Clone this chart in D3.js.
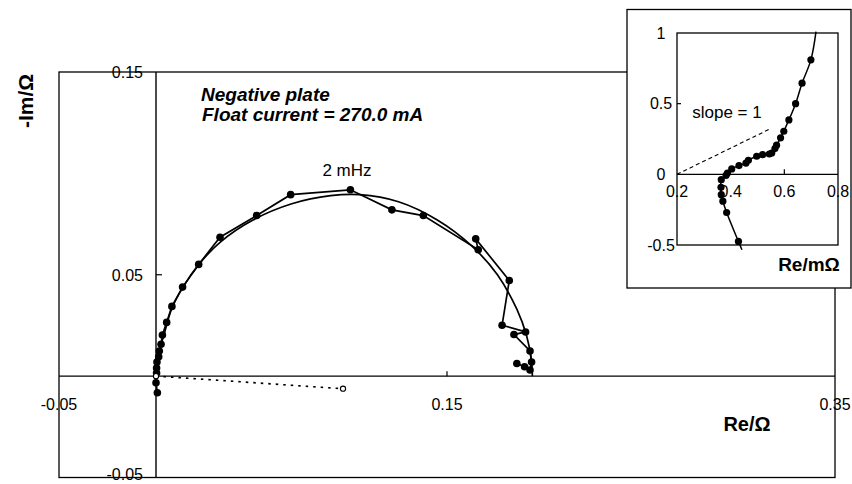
<!DOCTYPE html>
<html>
<head>
<meta charset="utf-8">
<script src="https://cdn.jsdelivr.net/npm/d3@7"></script>
<style>
  body { margin: 0; background: #fff; }
  text { font-family: Arial, "Liberation Sans", sans-serif; fill: #000; }
</style>
</head>
<body>
<div id="chart"></div>
<script>
// Main Nyquist plot: measured points (Re, -Im) in ohm
const dataRe = [0.0007, 0.0000, 0.0003, 0.0003, 0.0005, 0.0014, 0.0017, 0.0026, 0.0033, 0.0055,
                0.0082, 0.0137, 0.0220, 0.0330, 0.0519, 0.0694, 0.1002, 0.1216, 0.1378, 0.1661,
                0.1648, 0.1821, 0.1784, 0.1905, 0.1845, 0.1928, 0.1936, 0.1928, 0.1900, 0.1860];
const dataIm = [-0.0082, -0.0033, 0.0015, 0.0040, 0.0070, 0.0095, 0.0124, 0.0157, 0.0203, 0.0265,
                0.0344, 0.0439, 0.0551, 0.0685, 0.0792, 0.0895, 0.0919, 0.0820, 0.0792, 0.0623,
                0.0677, 0.0472, 0.0251, 0.0218, 0.0205, 0.0124, 0.0070, 0.0030, 0.0046, 0.0062];

// fitted arc (smooth line, no markers)
const fitRe = [0.000, 0.001, 0.004, 0.008, 0.014, 0.022, 0.033, 0.050, 0.070, 0.090,
               0.105, 0.125, 0.145, 0.163, 0.176, 0.186, 0.191, 0.1935, 0.194];
const fitIm = [0.000, 0.010, 0.020, 0.033, 0.044, 0.055, 0.066, 0.077, 0.085, 0.089,
               0.0895, 0.086, 0.077, 0.064, 0.050, 0.033, 0.020, 0.008, 0.000];

// dotted segment to the open point
const dotRe = [0.0, 0.0964];
const dotIm = [0.0, -0.0062];

const xTicks = [-0.05, 0.15, 0.35];
const xTickLabels = ["-0.05", "0.15", "0.35"];
const yTicks = [0.15, 0.05, -0.05];
const yTickLabels = ["0.15", "0.05", "-0.05"];

// Inset: high frequency part, in milliohm
const insetRe = [0.699, 0.666, 0.642, 0.617, 0.598, 0.586, 0.571, 0.565, 0.553, 0.544,
                 0.519, 0.497, 0.466, 0.457, 0.431, 0.404, 0.388, 0.383, 0.365, 0.364,
                 0.365, 0.371, 0.385, 0.429];
const insetIm = [0.81, 0.645, 0.50, 0.385, 0.305, 0.258, 0.206, 0.182, 0.151, 0.144,
                 0.139, 0.128, 0.099, 0.080, 0.062, 0.038, 0.009, -0.007, -0.038, -0.092,
                 -0.144, -0.19, -0.27, -0.475];
// ends of the inset curve beyond the first and last points
const insetEndRe = [0.718, 0.442];
const insetEndIm = [1.01, -0.534];
const slopeRe = [0.2, 0.545];
const slopeIm = [0.0, 0.32];

const insetXTicks = [0.2, 0.4, 0.6, 0.8];
const insetXTickLabels = ["0.2", "0.4", "0.6", "0.8"];
const insetYTicks = [1, 0.5, 0, -0.5];
const insetYTickLabels = ["1", "0.5", "0", "-0.5"];

const width = 852, height = 484;
const svg = d3.select("#chart").append("svg")
    .attr("width", width)
    .attr("height", height);

// Scales for main plot
const x = d3.scaleLinear().domain([-0.05, 0.35]).range([59, 835]);
const y = d3.scaleLinear().domain([-0.05, 0.15]).range([477.5, 72]);

// frame
svg.append("rect")
    .attr("x", x(-0.05)).attr("y", y(0.15))
    .attr("width", x(0.35) - x(-0.05)).attr("height", y(-0.05) - y(0.15))
    .attr("fill", "none").attr("stroke", "#000").attr("stroke-width", 1.3);

// zero axes
svg.append("line").attr("x1", x(-0.05)).attr("x2", x(0.35)).attr("y1", y(0)).attr("y2", y(0))
    .attr("stroke", "#000").attr("stroke-width", 1.4);
svg.append("line").attr("x1", x(0)).attr("x2", x(0)).attr("y1", y(0.15)).attr("y2", y(-0.05))
    .attr("stroke", "#000").attr("stroke-width", 1.4);

// small ticks
svg.append("line").attr("x1", x(0.15)).attr("x2", x(0.15)).attr("y1", y(0)).attr("y2", y(0) - 5)
    .attr("stroke", "#000").attr("stroke-width", 1.2);
svg.append("line").attr("x1", x(0)).attr("x2", x(0) + 6).attr("y1", y(0.05)).attr("y2", y(0.05))
    .attr("stroke", "#000").attr("stroke-width", 1.2);

// tick labels
svg.selectAll(".xlab").data(xTicks).enter().append("text")
    .attr("x", d => x(d)).attr("y", 410)
    .attr("text-anchor", "middle").style("font-size", "16px")
    .text((d, i) => xTickLabels[i]);
svg.selectAll(".ylab").data(yTicks).enter().append("text")
    .attr("x", 143).attr("y", d => Math.min(y(d), 474)).attr("dy", "0.36em")
    .attr("text-anchor", "end").style("font-size", "16px")
    .text((d, i) => yTickLabels[i]);

// axis titles
svg.append("text").attr("x", 747).attr("y", 431).attr("text-anchor", "middle")
    .style("font-size", "20px").style("font-weight", "bold").text("Re/Ω");
svg.append("text").attr("transform", "translate(33,101) rotate(-90)").attr("text-anchor", "middle")
    .style("font-size", "21px").style("font-weight", "bold").text("-Im/Ω");

// annotations
svg.append("text").attr("x", 201).attr("y", 100.5)
    .style("font-size", "19px").style("font-weight", "bold").style("font-style", "italic")
    .text("Negative plate");
svg.append("text").attr("x", 202).attr("y", 121)
    .style("font-size", "19px").style("font-weight", "bold").style("font-style", "italic")
    .text("Float current = 270.0 mA");
svg.append("text").attr("x", 347).attr("y", 176).attr("text-anchor", "middle")
    .style("font-size", "17px").text("2 mHz");

// fitted arc
const fitPts = fitRe.map((d, i) => [d, fitIm[i]]);
svg.append("path").datum(fitPts)
    .attr("d", d3.line().x(d => x(d[0])).y(d => y(d[1])).curve(d3.curveCatmullRom))
    .attr("fill", "none").attr("stroke", "#000").attr("stroke-width", 1.7);

// measured data
const pts = dataRe.map((d, i) => [d, dataIm[i]]);
svg.append("path").datum(pts)
    .attr("d", d3.line().x(d => x(d[0])).y(d => y(d[1])))
    .attr("fill", "none").attr("stroke", "#000").attr("stroke-width", 1.7);
svg.selectAll(".dot").data(pts).enter().append("circle")
    .attr("cx", d => x(d[0])).attr("cy", d => y(d[1])).attr("r", 3.8)
    .attr("fill", "#000");

// dotted line to open point
const dPts = dotRe.map((d, i) => [d, dotIm[i]]);
svg.append("path").datum(dPts)
    .attr("d", d3.line().x(d => x(d[0])).y(d => y(d[1])))
    .attr("fill", "none").attr("stroke", "#000").attr("stroke-width", 1.6)
    .attr("stroke-dasharray", "2.5,5");
svg.selectAll(".open").data(dPts).enter().append("circle")
    .attr("cx", d => x(d[0])).attr("cy", d => y(d[1])).attr("r", 2.6)
    .attr("fill", "#fff").attr("stroke", "#000").attr("stroke-width", 1.1);

// ---- Inset ----
svg.append("rect").attr("x", 627).attr("y", 9.5).attr("width", 224).attr("height", 278.5)
    .attr("fill", "#fff").attr("stroke", "#000").attr("stroke-width", 1.3);

const ix = d3.scaleLinear().domain([0.2, 0.8]).range([677, 838]);
const iy = d3.scaleLinear().domain([-0.5, 1]).range([245, 33]);

svg.append("rect").attr("x", ix(0.2)).attr("y", iy(1))
    .attr("width", ix(0.8) - ix(0.2)).attr("height", iy(-0.5) - iy(1))
    .attr("fill", "none").attr("stroke", "#000").attr("stroke-width", 1.3);
svg.append("line").attr("x1", ix(0.2)).attr("x2", ix(0.8)).attr("y1", iy(0)).attr("y2", iy(0))
    .attr("stroke", "#000").attr("stroke-width", 1.4);
svg.append("line").attr("x1", ix(0.6)).attr("x2", ix(0.6)).attr("y1", iy(0)).attr("y2", iy(0) - 5)
    .attr("stroke", "#000").attr("stroke-width", 1.2);
svg.append("line").attr("x1", ix(0.2)).attr("x2", ix(0.2) + 4).attr("y1", iy(0.5)).attr("y2", iy(0.5))
    .attr("stroke", "#000").attr("stroke-width", 1.2);

svg.selectAll(".ixlab").data(insetXTicks).enter().append("text")
    .attr("x", d => ix(d)).attr("y", 197)
    .attr("text-anchor", "middle").style("font-size", "16px")
    .text((d, i) => insetXTickLabels[i]);
svg.selectAll(".iylab").data(insetYTicks).enter().append("text")
    .attr("x", 661).attr("y", d => iy(d)).attr("dy", "0.36em")
    .attr("text-anchor", "middle").style("font-size", "16px")
    .text((d, i) => insetYTickLabels[i]);

svg.append("text").attr("x", 809).attr("y", 271).attr("text-anchor", "middle")
    .style("font-size", "19px").style("font-weight", "bold").text("Re/mΩ");
svg.append("text").attr("x", 727).attr("y", 118).attr("text-anchor", "middle")
    .style("font-size", "17px").text("slope = 1");

// slope = 1 reference line
const sPts = slopeRe.map((d, i) => [d, slopeIm[i]]);
svg.append("path").datum(sPts)
    .attr("d", d3.line().x(d => ix(d[0])).y(d => iy(d[1])))
    .attr("fill", "none").attr("stroke", "#000").attr("stroke-width", 1.1)
    .attr("stroke-dasharray", "4,3");

// inset curve and points
const iPts = insetRe.map((d, i) => [d, insetIm[i]]);
const iLine = [[insetEndRe[0], insetEndIm[0]], ...iPts, [insetEndRe[1], insetEndIm[1]]];
svg.append("path").datum(iLine)
    .attr("d", d3.line().x(d => ix(d[0])).y(d => iy(d[1])).curve(d3.curveCatmullRom))
    .attr("fill", "none").attr("stroke", "#000").attr("stroke-width", 1.5);
svg.selectAll(".idot").data(iPts).enter().append("circle")
    .attr("cx", d => ix(d[0])).attr("cy", d => iy(d[1])).attr("r", 3.6)
    .attr("fill", "#000");
</script>
</body>
</html>
